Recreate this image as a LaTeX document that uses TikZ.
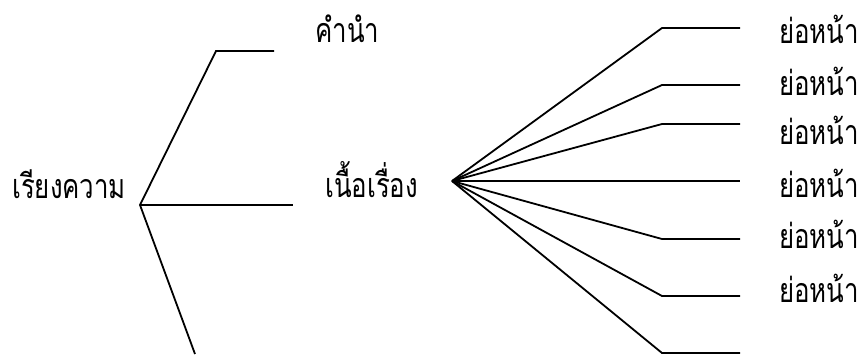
\documentclass[tikz,border=0pt]{standalone}
\usepackage{fontspec}
\newfontfamily\thaifont[Script=Thai, FakeStretch=0.76]{Loma}
\tikzset{
	wire/.style={line width=1.8pt, line join=miter},
	lbl/.style={shape=rectangle, anchor=base west, inner sep=0pt, font=\thaifont\fontsize{34}{40}\selectfont}
}
\begin{document}
\begin{tikzpicture}[x=1pt, y=-1pt]
	\useasboundingbox (0, 0) rectangle (862, 354);
	% Paths, nodes and wires:
	\node[lbl] (essay) at (12, 198){เรียงความ};
	\node[lbl] (intro) at (315, 42){คำนำ};
	\node[lbl] (body) at (325, 197){เนื้อเรื่อง};
	\node[lbl] (para1) at (779, 43){ย่อหน้า};
	\node[lbl] (para2) at (779, 95){ย่อหน้า};
	\node[lbl] (para3) at (779, 144){ย่อหน้า};
	\node[lbl] (para4) at (779, 197){ย่อหน้า};
	\node[lbl] (para5) at (779, 248){ย่อหน้า};
	\node[lbl] (para6) at (779, 302){ย่อหน้า};
	\coordinate (root) at (140, 205);
	\coordinate (introbend) at (216, 51);
	\coordinate (introend) at (274, 51);
	\coordinate (bodyend) at (293, 205);
	\coordinate (conclend) at (195, 354);
	\coordinate (hub) at (452, 181);
	\coordinate (bend1) at (662, 28);
	\coordinate (end1) at (740, 28);
	\coordinate (bend2) at (662, 85);
	\coordinate (end2) at (740, 85);
	\coordinate (bend3) at (662, 124);
	\coordinate (end3) at (740, 124);
	\coordinate (end4) at (740, 181);
	\coordinate (bend5) at (662, 239);
	\coordinate (end5) at (740, 239);
	\coordinate (bend6) at (662, 296);
	\coordinate (end6) at (740, 296);
	\coordinate (bend7) at (662, 353);
	\coordinate (end7) at (740, 353);
	\draw[wire] (introend) -- (introbend) -- (root) -- (conclend);
	\draw[wire] (root) -- (bodyend);
	\draw[wire] (hub) -- (bend1) -- (end1);
	\draw[wire] (hub) -- (bend2) -- (end2);
	\draw[wire] (hub) -- (bend3) -- (end3);
	\draw[wire] (hub) -- (end4);
	\draw[wire] (hub) -- (bend5) -- (end5);
	\draw[wire] (hub) -- (bend6) -- (end6);
	\draw[wire] (hub) -- (bend7) -- (end7);
\end{tikzpicture}
\end{document}
